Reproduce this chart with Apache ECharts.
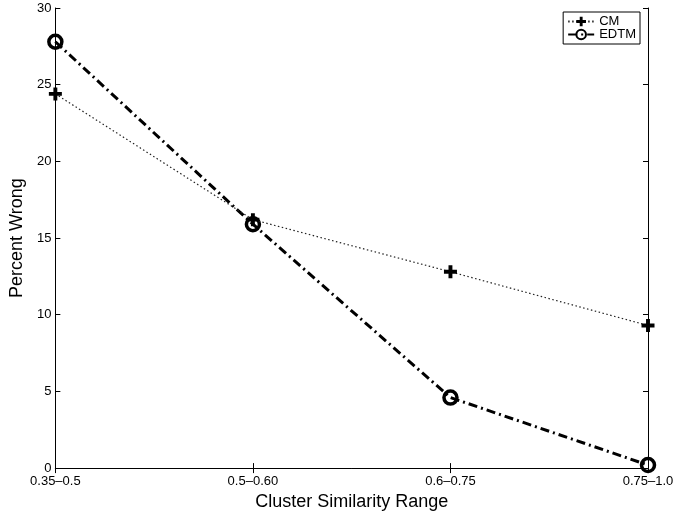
<!DOCTYPE html>
<html>
<head>
<meta charset="utf-8">
<script src="https://cdn.jsdelivr.net/npm/echarts@6/dist/echarts.min.js"></script>
<style>
html,body{margin:0;padding:0;background:#fff;}
#c{width:697px;height:516px;}
</style>
</head>
<body>
<div id="c"></div>
<script>
var categories = ['0.35\u20130.5', '0.5\u20130.60', '0.6\u20130.75', '0.75\u20131.0'];
var cmValues = [24.4, 16.2, 12.8, 9.3];
var edtmValues = [27.8, 15.9, 4.6, 0.2];
var seriesNames = ['CM', 'EDTM'];

var FONT = '"Liberation Sans", Arial, Helvetica, sans-serif';
var plusPath = 'path://M-0.9,-3H0.9V-0.9H3V0.9H0.9V3H-0.9V0.9H-3V-0.9H-0.9Z';

var chart = echarts.init(document.getElementById('c'), null, {renderer: 'canvas'});
chart.setOption({
  animation: false,
  backgroundColor: '#fff',
  grid: {left: 54, right: 49, top: 8, bottom: 43, containLabel: false},
  legend: {
    orient: 'vertical',
    right: 57,
    top: 12,
    data: seriesNames,
    backgroundColor: '#fff',
    borderColor: '#000',
    borderWidth: 1,
    borderRadius: 0,
    padding: [3, 4, 3, 4],
    itemGap: 0,
    itemWidth: 26,
    itemHeight: 12,
    textStyle: {fontFamily: FONT, fontSize: 13, color: '#000'}
  },
  xAxis: [{
    type: 'category',
    data: categories,
    boundaryGap: false,
    name: 'Cluster Similarity Range',
    nameLocation: 'middle',
    nameGap: 21,
    nameTextStyle: {fontFamily: FONT, fontSize: 18, color: '#000'},
    axisLine: {lineStyle: {color: '#000', width: 1}},
    axisTick: {inside: true, length: 5, lineStyle: {color: '#000'}},
    axisLabel: {fontFamily: FONT, fontSize: 13, color: '#000', margin: 7},
    splitLine: {show: false}
  }, {
    type: 'category',
    data: categories,
    boundaryGap: false,
    position: 'top',
    axisLine: {lineStyle: {color: '#000', width: 1}},
    axisTick: {inside: true, length: 5, lineStyle: {color: '#000'}},
    axisLabel: {show: false},
    splitLine: {show: false}
  }],
  yAxis: [{
    type: 'value',
    min: 0, max: 30, interval: 5,
    name: 'Percent Wrong',
    nameLocation: 'middle',
    nameGap: 23,
    nameTextStyle: {fontFamily: FONT, fontSize: 18, color: '#000'},
    axisLine: {show: true, lineStyle: {color: '#000', width: 1}},
    axisTick: {show: true, inside: true, length: 5, lineStyle: {color: '#000'}},
    axisLabel: {fontFamily: FONT, fontSize: 13, color: '#000', margin: 4},
    splitLine: {show: false}
  }, {
    type: 'value',
    min: 0, max: 30, interval: 5,
    position: 'right',
    axisLine: {show: true, lineStyle: {color: '#000', width: 1}},
    axisTick: {show: true, inside: true, length: 5, lineStyle: {color: '#000'}},
    axisLabel: {show: false},
    splitLine: {show: false}
  }],
  series: [{
    name: seriesNames[0],
    type: 'line',
    data: cmValues,
    symbol: plusPath,
    symbolSize: 13,
    showAllSymbol: true,
    lineStyle: {color: '#222', width: 1.2, type: [1.5, 2.5]},
    itemStyle: {color: '#000', borderWidth: 0},
    z: 3
  }, {
    name: seriesNames[1],
    type: 'line',
    data: edtmValues,
    symbol: 'circle',
    symbolSize: 13,
    showAllSymbol: true,
    lineStyle: {color: '#000', width: 3, type: [9, 4, 2, 4]},
    itemStyle: {color: 'rgba(255,255,255,0)', borderColor: '#000', borderWidth: 3.5},
    z: 2
  }]
});
</script>
</body>
</html>
